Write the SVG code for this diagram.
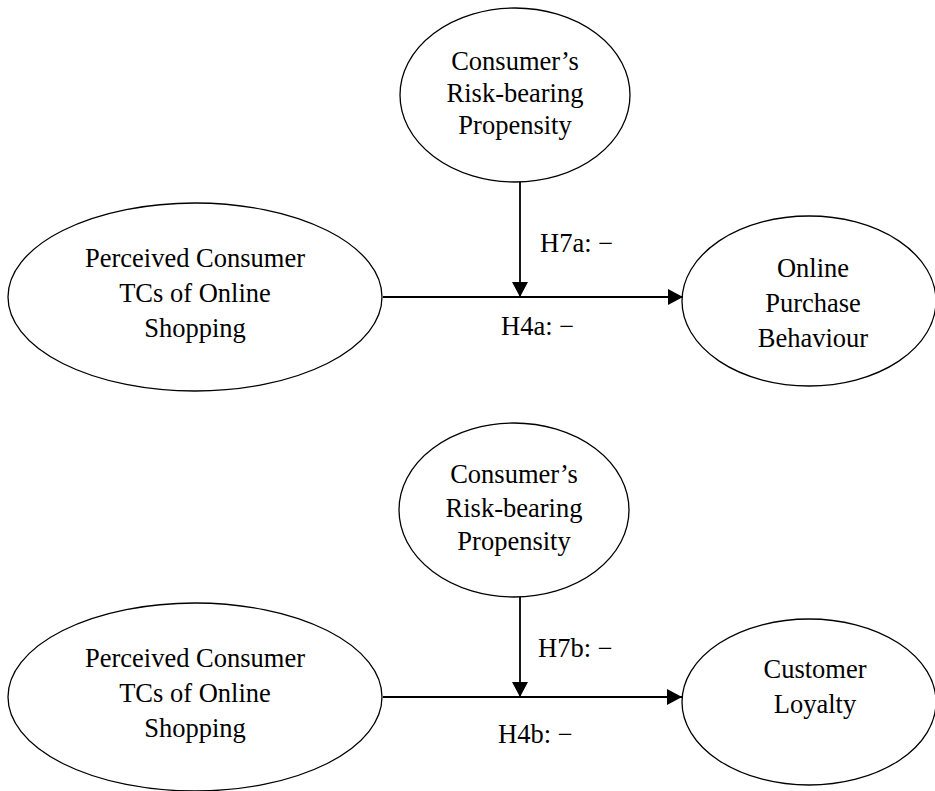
<svg xmlns="http://www.w3.org/2000/svg" width="935" height="791" viewBox="0 0 935 791">
  <style>
    .node ellipse { fill: #ffffff; stroke: #000000; stroke-width: 1.3; }
    .node text, .label { font-family: "Liberation Serif", "Times New Roman", serif; font-size: 26.5px; fill: #000000; }
    .node text { text-anchor: middle; }
    .edge { stroke: #000000; stroke-width: 1.8; fill: none; }
  </style>
  <defs>
    <marker id="arrow" markerUnits="userSpaceOnUse" markerWidth="16" markerHeight="16" refX="15" refY="8" orient="auto">
      <path d="M0,0 L15,8 L0,16 Z" fill="#000000"/>
    </marker>
  </defs>

  <rect width="935" height="791" fill="#ffffff"/>

  <!-- Model (a): purchase behaviour -->
  <g id="risk-a" class="node">
    <ellipse cx="515" cy="95" rx="115" ry="87"/>
    <text x="515" y="70">Consumer’s</text>
    <text x="515" y="102">Risk-bearing</text>
    <text x="515" y="134">Propensity</text>
  </g>
  <g id="tcs-a" class="node">
    <ellipse cx="195" cy="297" rx="187" ry="94"/>
    <text x="195" y="267">Perceived Consumer</text>
    <text x="195" y="302">TCs of Online</text>
    <text x="195" y="337">Shopping</text>
  </g>
  <g id="purchase-a" class="node">
    <ellipse cx="809" cy="301" rx="127" ry="85"/>
    <text x="813" y="277">Online</text>
    <text x="813" y="312">Purchase</text>
    <text x="813" y="347">Behaviour</text>
  </g>

  <!-- Model (b): loyalty -->
  <g id="risk-b" class="node">
    <ellipse cx="514" cy="510" rx="115" ry="87"/>
    <text x="514" y="483">Consumer’s</text>
    <text x="514" y="517">Risk-bearing</text>
    <text x="514" y="550">Propensity</text>
  </g>
  <g id="tcs-b" class="node">
    <ellipse cx="195" cy="697" rx="187" ry="94"/>
    <text x="195" y="667">Perceived Consumer</text>
    <text x="195" y="702">TCs of Online</text>
    <text x="195" y="737">Shopping</text>
  </g>
  <g id="loyalty-b" class="node">
    <ellipse cx="809" cy="702" rx="127" ry="83"/>
    <text x="815" y="678">Customer</text>
    <text x="815" y="713">Loyalty</text>
  </g>

  <!-- Connectors -->
  <g id="connectors">
    <line class="edge" x1="383" y1="297" x2="683" y2="297" marker-end="url(#arrow)"/>
    <line class="edge" x1="520" y1="182" x2="520" y2="297" marker-end="url(#arrow)"/>
    <line class="edge" x1="383" y1="697" x2="682" y2="697" marker-end="url(#arrow)"/>
    <line class="edge" x1="520" y1="597" x2="520" y2="697" marker-end="url(#arrow)"/>
  </g>

  <g id="labels">
    <text class="label" x="540" y="252">H7a: −</text>
    <text class="label" x="501" y="335">H4a: −</text>
    <text class="label" x="538" y="657">H7b: −</text>
    <text class="label" x="498" y="743">H4b: −</text>
  </g>
</svg>
